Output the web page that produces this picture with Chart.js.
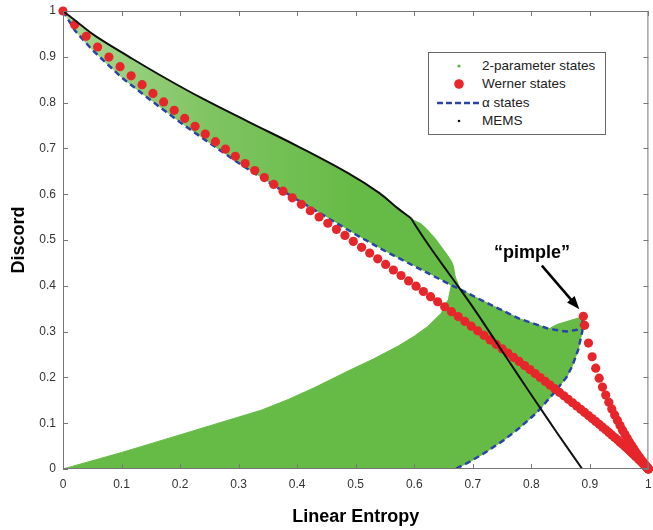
<!DOCTYPE html>
<html>
<head>
<meta charset="utf-8">
<script src="https://cdn.jsdelivr.net/npm/chart.js@4.4.1/dist/chart.umd.min.js"></script>
<style>
  html, body { margin: 0; padding: 0; background: #fff; }
  #wrap { position: relative; width: 653px; height: 530px; }
  #legend {
    position: absolute; left: 428px; top: 52px; width: 176px; height: 81px;
    border: 1px solid #666; background: #fff;
    font: 13.5px "Liberation Sans", Arial, sans-serif; color: #222;
  }
  #legend svg { position: absolute; left: 0; top: 0; }
  #legend .row { position: absolute; left: 53px; line-height: 16px; white-space: nowrap; }
</style>
</head>
<body>
<div id="wrap">
  <canvas id="myChart" width="653" height="530"></canvas>
  <div id="legend">
    <svg width="52" height="81">
      <circle cx="30" cy="13" r="1.6" fill="#5cb83c"></circle>
      <circle cx="30" cy="31" r="4.8" fill="#e6262b"></circle>
      <line x1="8" y1="50" x2="50" y2="50" stroke="#2a44a6" stroke-width="2.5" stroke-dasharray="6,3"></line>
      <circle cx="30" cy="68" r="1.3" fill="#111"></circle>
    </svg>
    <div class="row" style="top:5px">2-parameter states</div>
    <div class="row" style="top:23px">Werner states</div>
    <div class="row" style="top:42px">α states</div>
    <div class="row" style="top:60px">MEMS</div>
  </div>
</div>
<script>
// Werner states, branch p = 1 ... 0
const wernerX = [0, 0.0199, 0.0396, 0.0591, 0.0784, 0.0975, 0.1164, 0.1351, 0.1536, 0.1719,
  0.19, 0.2079, 0.2256, 0.2431, 0.2604, 0.2775, 0.2944, 0.3111, 0.3276, 0.3439,
  0.36, 0.3759, 0.3916, 0.4071, 0.4224, 0.4375, 0.4524, 0.4671, 0.4816, 0.4959,
  0.51, 0.5239, 0.5376, 0.5511, 0.5644, 0.5775, 0.5904, 0.6031, 0.6156, 0.6279,
  0.64, 0.6519, 0.6636, 0.6751, 0.6864, 0.6975, 0.7084, 0.7191, 0.7296, 0.7399,
  0.75, 0.7599, 0.7696, 0.7791, 0.7884, 0.7975, 0.8064, 0.8151, 0.8236, 0.8319,
  0.84, 0.8479, 0.8556, 0.8631, 0.8704, 0.8775, 0.8844, 0.8911, 0.8976, 0.9039,
  0.91, 0.9159, 0.9216, 0.9271, 0.9324, 0.9375, 0.9424, 0.9471, 0.9516, 0.9559,
  0.96, 0.9639, 0.9676, 0.9711, 0.9744, 0.9775, 0.9804, 0.9831, 0.9856, 0.9879,
  0.99, 0.9919, 0.9936, 0.9951, 0.9964, 0.9975, 0.9984, 0.9991, 0.9996, 0.9999, 1];
const wernerY = [1, 0.9698, 0.9447, 0.9214, 0.8995, 0.8785, 0.8585, 0.8391, 0.8201, 0.8015,
  0.7832, 0.7654, 0.7481, 0.7312, 0.7147, 0.6986, 0.6827, 0.6670, 0.6516, 0.6364,
  0.6214, 0.6066, 0.5921, 0.5779, 0.5639, 0.5502, 0.5366, 0.5232, 0.5100, 0.4970,
  0.4841, 0.4714, 0.4589, 0.4466, 0.4345, 0.4225, 0.4107, 0.3991, 0.3876, 0.3763,
  0.3652, 0.3543, 0.3435, 0.3329, 0.3224, 0.3119, 0.3018, 0.2918, 0.2819, 0.2722,
  0.2625, 0.2531, 0.2439, 0.2348, 0.2258, 0.2170, 0.2083, 0.1998, 0.1915, 0.1833,
  0.1753, 0.1674, 0.1597, 0.1521, 0.1447, 0.1375, 0.1304, 0.1235, 0.1167, 0.1101,
  0.1038, 0.0975, 0.0914, 0.0855, 0.0798, 0.0742, 0.0688, 0.0636, 0.0586, 0.0538,
  0.0490, 0.0445, 0.0402, 0.0361, 0.0322, 0.0286, 0.0251, 0.0218, 0.0187, 0.0158,
  0.0132, 0.0108, 0.0086, 0.0066, 0.0049, 0.0034, 0.0022, 0.0013, 0.0006, 0.0001, 0];

// Werner states, branch p = 0 ... -1/3 (up to the "pimple")
const wernerNegX = [0.9999, 0.9996, 0.9991, 0.9984, 0.9975, 0.9964, 0.9951, 0.9936, 0.9919, 0.99,
  0.9879, 0.9856, 0.9831, 0.9804, 0.9775, 0.9744, 0.9711, 0.9676, 0.9639, 0.96,
  0.9559, 0.9516, 0.9471, 0.9424, 0.9375, 0.9324, 0.9271, 0.9216, 0.9159, 0.91,
  0.9039, 0.8976, 0.8911, 0.8889];
const wernerNegY = [0.0002, 0.0006, 0.0013, 0.0024, 0.0038, 0.0055, 0.0076, 0.0101, 0.0129, 0.0162,
  0.0198, 0.0239, 0.0285, 0.0335, 0.0390, 0.0451, 0.0517, 0.0590, 0.0669, 0.0755,
  0.0848, 0.0950, 0.1061, 0.1181, 0.1312, 0.1456, 0.1614, 0.1788, 0.1982, 0.2201,
  0.2451, 0.2749, 0.3137, 0.3333];

// alpha states (dashed)
const alphaX = [0, 0.02, 0.05, 0.1, 0.15, 0.2, 0.25, 0.3, 0.35, 0.4, 0.45, 0.5, 0.55, 0.6, 0.65,
  0.68, 0.725, 0.78, 0.83, 0.86, 0.878, 0.886, 0.889,
  0.887, 0.88, 0.87, 0.86, 0.838, 0.81, 0.78, 0.753, 0.72, 0.695, 0.67];
const alphaY = [1, 0.958, 0.915, 0.855, 0.805, 0.757, 0.712, 0.668, 0.627, 0.588, 0.55, 0.512, 0.476, 0.443, 0.41,
  0.391, 0.362, 0.328, 0.306, 0.3, 0.304, 0.316, 0.33,
  0.3, 0.26, 0.225, 0.2, 0.165, 0.124, 0.09, 0.063, 0.035, 0.016, 0];

// MEMS: curved part up to the kink, then the steep part
const memsCurveX = [0, 0.03, 0.057, 0.113, 0.17, 0.238, 0.317, 0.402, 0.487, 0.54, 0.572, 0.595];
const memsCurveY = [1, 0.97, 0.944, 0.9, 0.857, 0.809, 0.758, 0.704, 0.646, 0.603, 0.569, 0.547];
const memsSteepX = [0.595, 0.603, 0.625, 0.65, 0.68, 0.71, 0.74, 0.78, 0.81, 0.845, 0.887];
const memsSteepY = [0.547, 0.53, 0.488, 0.443, 0.39, 0.335, 0.277, 0.2, 0.143, 0.077, 0];

// 2-parameter states: outline of the upper band (with its lobe)
const bandX = [0, 0.03, 0.057, 0.113, 0.17, 0.238, 0.317, 0.402, 0.487, 0.54, 0.572, 0.595,
  0.612, 0.634, 0.651, 0.666, 0.671, 0.678,
  0.65, 0.6, 0.55, 0.5, 0.45, 0.4, 0.35, 0.3, 0.25, 0.2, 0.15, 0.1, 0.05, 0.02, 0];
const bandY = [1, 0.97, 0.944, 0.9, 0.857, 0.809, 0.758, 0.704, 0.646, 0.603, 0.569, 0.547,
  0.536, 0.507, 0.478, 0.449, 0.42, 0.392,
  0.41, 0.443, 0.476, 0.512, 0.55, 0.588, 0.627, 0.668, 0.712, 0.757, 0.805, 0.855, 0.915, 0.958, 1];

// 2-parameter states: outline of the lower region
const lowerX = [0.663, 0.68, 0.725, 0.78, 0.83, 0.845, 0.889,
  0.887, 0.88, 0.87, 0.86, 0.838, 0.81, 0.78, 0.753, 0.72, 0.695, 0.67,
  0, 0.1, 0.17, 0.25, 0.34, 0.385, 0.43, 0.487, 0.53, 0.572, 0.6, 0.623, 0.646, 0.657];
const lowerY = [0.405, 0.391, 0.362, 0.328, 0.306, 0.316, 0.333,
  0.3, 0.26, 0.225, 0.2, 0.165, 0.124, 0.09, 0.063, 0.035, 0.016, 0,
  0, 0.036, 0.063, 0.094, 0.129, 0.152, 0.178, 0.214, 0.24, 0.268, 0.29, 0.311, 0.34, 0.368];

const tickVals = [0, 0.1, 0.2, 0.3, 0.4, 0.5, 0.6, 0.7, 0.8, 0.9, 1];

const pts = (xs, ys) => xs.map((x, i) => ({x: x, y: ys[i]}));

const GREEN = '#66bb46';
const fontFamily = '"Liberation Sans", Arial, sans-serif';

function bandColor(c) {
  const chart = c.chart;
  const a = chart.chartArea;
  if (!a) return GREEN;
  const xs = chart.scales.x;
  const g = chart.ctx.createLinearGradient(xs.getPixelForValue(0), 0, xs.getPixelForValue(0.5), 0);
  g.addColorStop(0, '#a9d893');
  g.addColorStop(0.5, '#7fc462');
  g.addColorStop(1, GREEN);
  return g;
}

const decor = {
  id: 'decor',
  afterDatasetsDraw(chart) {
    const {ctx, chartArea: a, scales: {x, y}} = chart;
    ctx.save();
    ctx.strokeStyle = '#777';
    ctx.lineWidth = 1;
    ctx.strokeRect(a.left + 0.5, a.top + 0.5, a.right - a.left - 1, a.bottom - a.top - 1);
    ctx.beginPath();
    tickVals.forEach(v => {
      const px = Math.round(x.getPixelForValue(v)) + 0.5;
      const py = Math.round(y.getPixelForValue(v)) + 0.5;
      ctx.moveTo(px, a.bottom); ctx.lineTo(px, a.bottom - 5);
      ctx.moveTo(px, a.top); ctx.lineTo(px, a.top + 5);
      ctx.moveTo(a.left, py); ctx.lineTo(a.left + 5, py);
      ctx.moveTo(a.right, py); ctx.lineTo(a.right - 5, py);
    });
    ctx.stroke();

    // "pimple" annotation
    const tx = x.getPixelForValue(0.818), ty = y.getPixelForValue(0.444);
    const hx = x.getPixelForValue(0.882), hy = y.getPixelForValue(0.349);
    const ang = Math.atan2(hy - ty, hx - tx);
    ctx.strokeStyle = '#000';
    ctx.fillStyle = '#000';
    ctx.lineWidth = 2.5;
    ctx.beginPath();
    ctx.moveTo(tx, ty);
    ctx.lineTo(hx - 10 * Math.cos(ang), hy - 10 * Math.sin(ang));
    ctx.stroke();
    ctx.beginPath();
    ctx.moveTo(hx, hy);
    ctx.lineTo(hx - 13 * Math.cos(ang) + 5 * Math.sin(ang), hy - 13 * Math.sin(ang) - 5 * Math.cos(ang));
    ctx.lineTo(hx - 13 * Math.cos(ang) - 5 * Math.sin(ang), hy - 13 * Math.sin(ang) + 5 * Math.cos(ang));
    ctx.closePath();
    ctx.fill();
    ctx.font = 'bold 18px ' + fontFamily;
    ctx.textAlign = 'center';
    ctx.textBaseline = 'alphabetic';
    ctx.fillText('\u201Cpimple\u201D', x.getPixelForValue(0.801), y.getPixelForValue(0.461));
    ctx.restore();
  }
};

const ctx = document.getElementById('myChart');
const myChart = new Chart(ctx, {
  type: 'scatter',
  data: {
    datasets: [
      {
        label: 'MEMS',
        data: pts(memsCurveX, memsCurveY),
        showLine: true,
        borderColor: '#111',
        borderWidth: 2,
        pointRadius: 0,
        tension: 0.4,
        order: 0
      },
      {
        label: 'MEMS (steep)',
        data: pts(memsSteepX, memsSteepY),
        showLine: true,
        borderColor: '#111',
        borderWidth: 2,
        pointRadius: 0,
        tension: 0.2,
        order: 0
      },
      {
        label: 'Werner states',
        data: pts(wernerX, wernerY).concat(pts(wernerNegX, wernerNegY)),
        backgroundColor: '#e6262b',
        borderWidth: 0,
        pointRadius: 4.6,
        clip: false,
        order: 1
      },
      {
        label: 'α states',
        data: pts(alphaX, alphaY),
        showLine: true,
        borderColor: '#2a44a6',
        borderWidth: 2.5,
        borderDash: [6, 4],
        pointRadius: 0,
        tension: 0,
        order: 2
      },
      {
        label: '2-parameter states',
        data: pts(bandX, bandY),
        showLine: true,
        fill: 'shape',
        backgroundColor: bandColor,
        borderColor: 'rgba(0,0,0,0)',
        borderWidth: 1,
        pointRadius: 0,
        tension: 0.3,
        order: 3
      },
      {
        label: '2-parameter states (low)',
        data: pts(lowerX, lowerY),
        showLine: true,
        fill: 'shape',
        backgroundColor: GREEN,
        borderColor: GREEN,
        borderWidth: 1,
        pointRadius: 0,
        tension: 0,
        order: 4
      }
    ]
  },
  options: {
    responsive: false,
    animation: false,
    events: [],
    layout: { padding: { top: 11, right: 1, left: 0, bottom: 0 } },
    plugins: {
      legend: { display: false },
      tooltip: { enabled: false }
    },
    scales: {
      x: {
        type: 'linear',
        min: 0, max: 1,
        grid: { display: false, drawTicks: false },
        border: { display: false },
        ticks: {
          stepSize: 0.1, autoSkip: false, maxRotation: 0, padding: 8,
          color: '#333', font: { family: fontFamily, size: 12 },
          callback: v => String(Math.round(v * 10) / 10)
        },
        title: {
          display: true, text: 'Linear Entropy', color: '#000',
          font: { family: fontFamily, size: 18, weight: 'bold' },
          padding: { top: 4, bottom: 2 }
        },
        afterFit: s => { s.height = 61; s.paddingLeft = 0; s.paddingRight = 0; }
      },
      y: {
        type: 'linear',
        min: 0, max: 1,
        grid: { display: false, drawTicks: false },
        border: { display: false },
        ticks: {
          stepSize: 0.1, autoSkip: false, padding: 7,
          color: '#333', font: { family: fontFamily, size: 12 },
          callback: v => String(Math.round(v * 10) / 10)
        },
        title: {
          display: true, text: 'Discord', color: '#000',
          font: { family: fontFamily, size: 18, weight: 'bold' },
          padding: { top: 8, bottom: 4 }
        },
        afterFit: s => { s.width = 63; s.paddingTop = 0; s.paddingBottom = 0; }
      }
    }
  },
  plugins: [decor]
});
</script>
</body>
</html>
